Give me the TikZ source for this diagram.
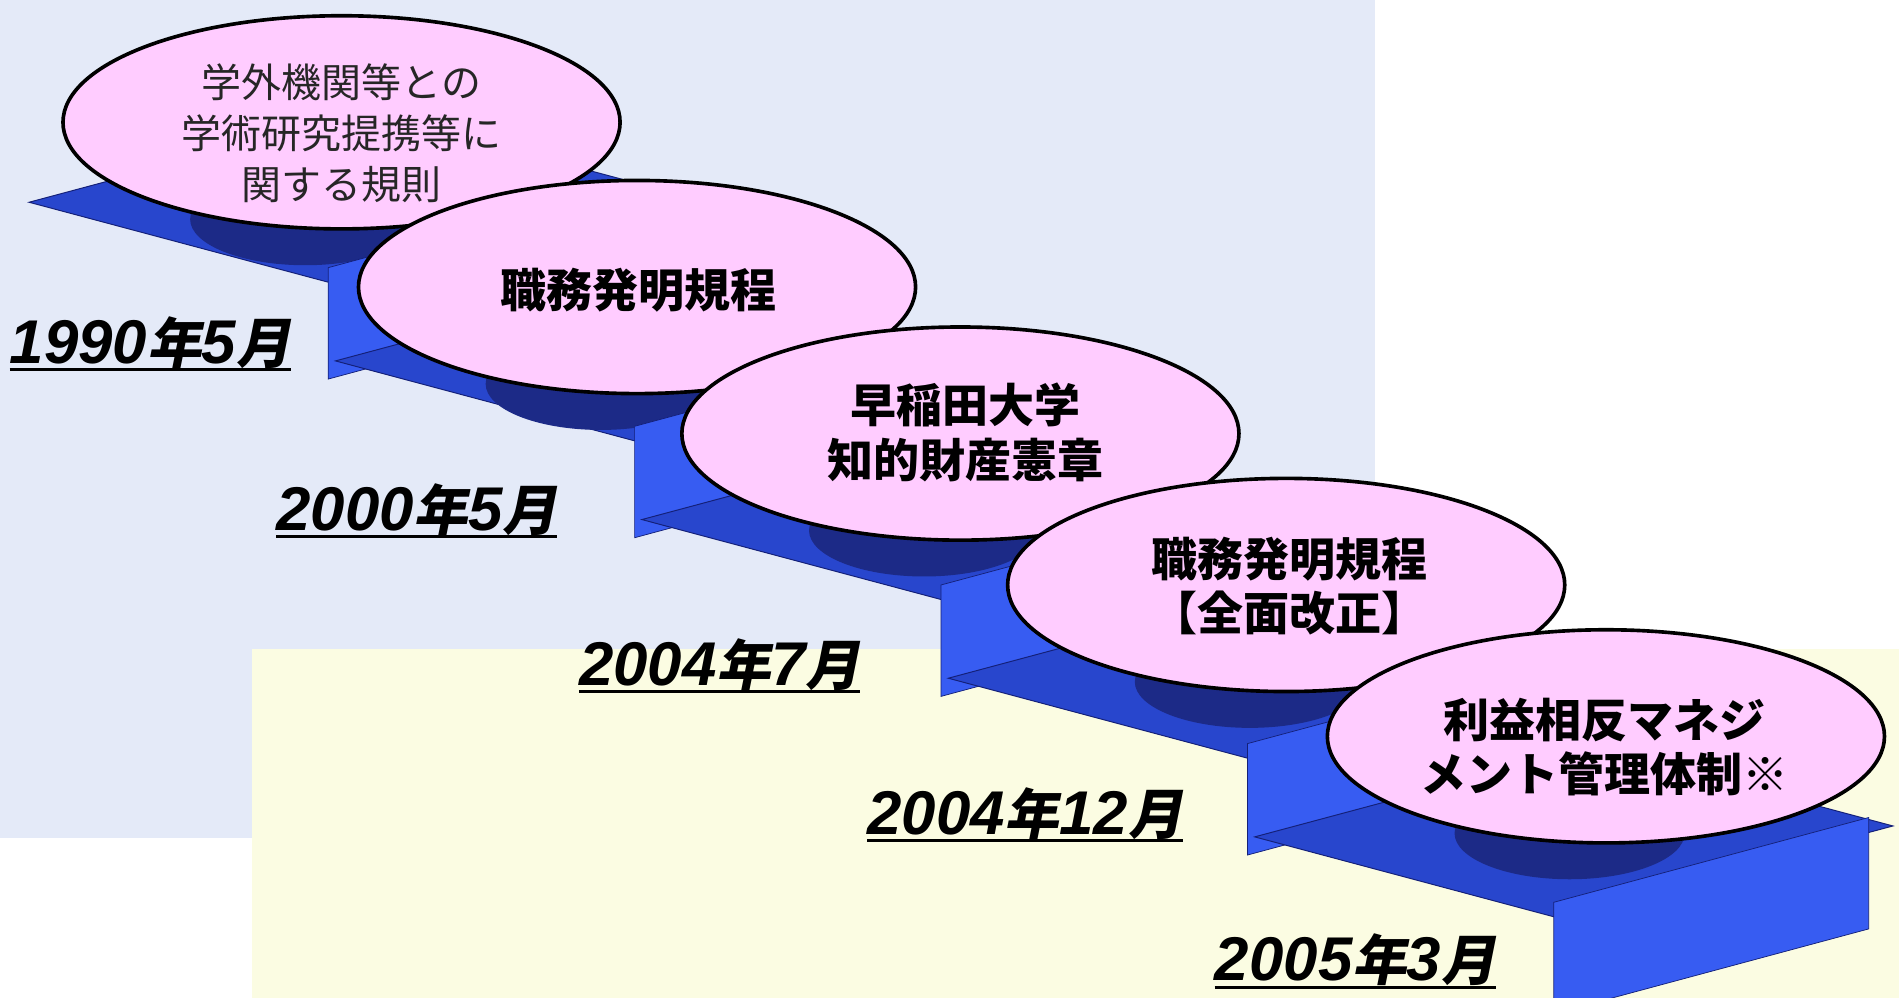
\documentclass[tikz,border=0pt]{standalone}
\usepackage{fontspec}
\setmainfont{Liberation Sans}
\newfontfamily\jp{Noto Sans CJK JP}
\newfontfamily\jpslant[FakeSlant=0.2]{Noto Sans CJK JP}
\usetikzlibrary{shapes.geometric}
\definecolor{bgblue}{RGB}{228,234,248}
\definecolor{bgyellow}{RGB}{251,252,226}
\definecolor{treadc}{RGB}{40,70,205}
\definecolor{riserc}{RGB}{55,92,242}
\definecolor{edgec}{RGB}{20,32,120}
\definecolor{shadowc}{RGB}{28,42,135}
\definecolor{pinkc}{RGB}{255,204,255}
\newcommand\Dn[1]{{\fontsize{51}{60}\selectfont\bfseries\itshape #1}}
\newcommand\Dk[1]{{\jpslant\fontsize{45}{50}\selectfont\bfseries #1}}
% #1,#2 = left tip of tread; #3,#4 = bubble centre
\newcommand\stair[4]{%
  \filldraw[treadc, draw=edgec, line width=0.8pt] (#1,#2) -- ++(247,66) -- ++(280,-75) -- ++(-247,-66) -- cycle;
  \fill[shadowc] (#3-30,#4+80) ellipse [x radius=95pt, y radius=38pt];
  \filldraw[riserc, draw=edgec, line width=0.6pt] (#1+247,#2+54) -- ++(260,-70) -- ++(0,92) -- ++(-260,70) -- cycle;
}
\begin{document}
\begin{tikzpicture}[x=1pt,y=-1pt,
  bubble/.style={ellipse, draw=black, line width=3pt, fill=pinkc, minimum width=460pt, minimum height=176pt, inner sep=0pt},
  btext/.style={font=\jp\bfseries\fontsize{38}{45}\selectfont, align=center, text=black, inner sep=0pt},
  thintext/.style={font=\jp\fontsize{33}{42}\selectfont, align=center, text=black!85, inner sep=0pt},
  datenode/.style={anchor=base west, inner sep=0pt},
  dateline/.style={line width=2.5pt, black}
]
\useasboundingbox (0,0) rectangle (1568,824);
\fill[white] (0,0) rectangle (1568,824);
\fill[bgblue] (0,0) rectangle (1135,692);
\fill[bgyellow] (208,536) rectangle (1568,824);

\stair{24}{167}{282}{101}
\node[bubble] (e1) at (282,101) {};
\node[thintext] (t1) at (282,110) {学外機関等との\\学術研究提携等に\\関する規則};

\stair{277}{298}{526}{237}
\node[bubble] (e2) at (526,237) {};
\node[btext] (t2) at (527,240) {職務発明規程};

\stair{530}{429}{793}{358}
\node[bubble] (e3) at (793,358) {};
\node[btext] (t3) at (797,357) {早稲田大学\\知的財産憲章};

\stair{783}{560}{1062}{483}
\node[bubble] (e4) at (1062,483) {};
\node[btext] (t4) at (1065,484) {職務発明規程\\【全面改正】};

\stair{1036}{691}{1326}{608}
\node[bubble] (e5) at (1326,608) {};
\node[btext] (t5) at (1325,617) {利益相反マネジ\\メント管理体制※};

\node[datenode] (d1) at (8,300) {\Dn{1990}\Dk{年}\Dn{5}\Dk{月}};
\draw[dateline] ([yshift=-5pt]d1.base west) -- ([yshift=-5pt]d1.base east);
\node[datenode] (d2) at (228,438) {\Dn{2000}\Dk{年}\Dn{5}\Dk{月}};
\draw[dateline] ([yshift=-5pt]d2.base west) -- ([yshift=-5pt]d2.base east);
\node[datenode] (d3) at (478,566) {\Dn{2004}\Dk{年}\Dn{7}\Dk{月}};
\draw[dateline] ([yshift=-5pt]d3.base west) -- ([yshift=-5pt]d3.base east);
\node[datenode] (d4) at (716,689) {\Dn{2004}\Dk{年}\Dn{12}\Dk{月}};
\draw[dateline] ([yshift=-5pt]d4.base west) -- ([yshift=-5pt]d4.base east);
\node[datenode] (d5) at (1003,810) {\Dn{2005}\Dk{年}\Dn{3}\Dk{月}};
\draw[dateline] ([yshift=-5pt]d5.base west) -- ([yshift=-5pt]d5.base east);
\end{tikzpicture}
\end{document}
